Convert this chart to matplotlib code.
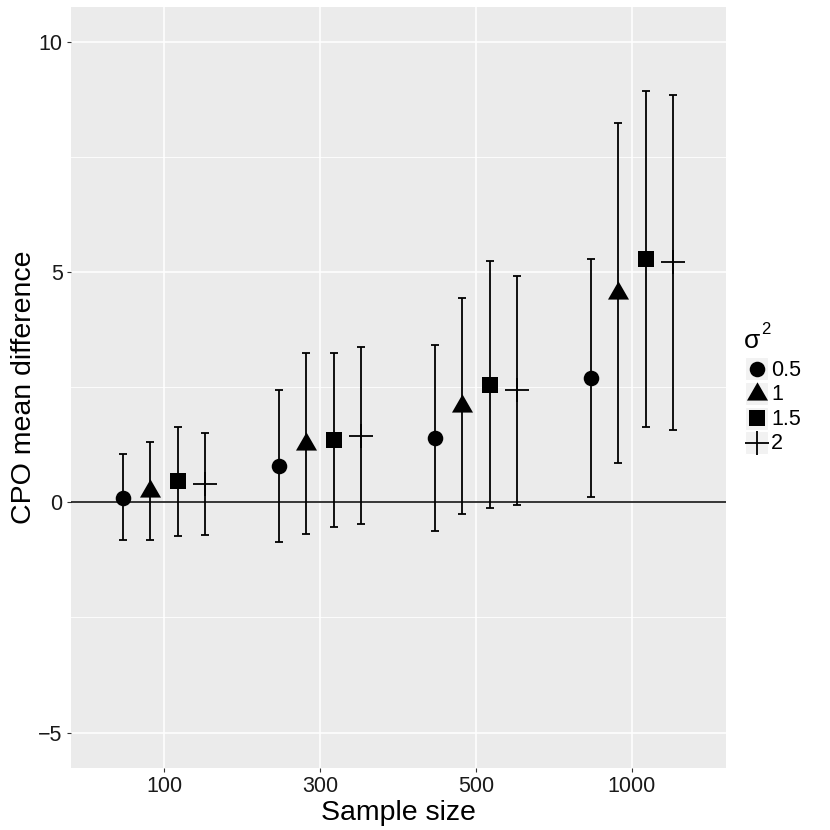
import matplotlib
matplotlib.use('Agg')
import matplotlib.pyplot as plt
import numpy as np
from matplotlib.path import Path
from matplotlib.patches import Rectangle

plt.rcParams['font.family'] = ['Liberation Sans', 'DejaVu Sans']

# ---------------- data ----------------
sample_sizes = ['100', '300', '500', '1000']
sigma2_levels = ['0.5', '1', '1.5', '2']

mean_05 = [0.10, 0.78, 1.39, 2.70]
lo_05 = [-0.82, -0.86, -0.63, 0.11]
hi_05 = [1.04, 2.43, 3.41, 5.29]

mean_1 = [0.24, 1.26, 2.08, 4.54]
lo_1 = [-0.81, -0.68, -0.25, 0.85]
hi_1 = [1.30, 3.24, 4.43, 8.24]

mean_15 = [0.45, 1.35, 2.55, 5.29]
lo_15 = [-0.74, -0.54, -0.13, 1.63]
hi_15 = [1.64, 3.24, 5.24, 8.92]

mean_2 = [0.40, 1.44, 2.44, 5.21]
lo_2 = [-0.72, -0.48, -0.06, 1.57]
hi_2 = [1.51, 3.36, 4.92, 8.84]

y_ticks = [-5, 0, 5, 10]

series = [
    (mean_05, lo_05, hi_05),
    (mean_1, lo_1, hi_1),
    (mean_15, lo_15, hi_15),
    (mean_2, lo_2, hi_2),
]

# ---------------- styles ----------------
tri = Path([(0, 1.1547), (1, -0.57735), (-1, -0.57735), (0, 1.1547)],
           [Path.MOVETO, Path.LINETO, Path.LINETO, Path.CLOSEPOLY])
marker_styles = [
    dict(marker='o', ms=11.2, mfc='black', mec='black', mew=0),
    dict(marker=tri, ms=17.5, mfc='black', mec='black', mew=0),
    dict(marker='s', ms=11.5, mfc='black', mec='black', mew=0),
    dict(marker='+', ms=17.5, mfc='black', mec='black', mew=1.3),
]

W = H = 830
fig = plt.figure(figsize=(8.3, 8.3), dpi=100)
ax = fig.add_axes([71 / W, (H - 768) / H, (726 - 71) / W, (768 - 7.5) / H])
ax.set_facecolor('#EBEBEB')
for s in ax.spines.values():
    s.set_visible(False)

x = np.arange(len(sample_sizes))
dodge = 0.7
n = len(series)
ax.axhline(0, color='black', lw=1.1, zorder=2)
for j, (m, lo, hi) in enumerate(series):
    xs = x + (j - (n - 1) / 2) * dodge / n
    m = np.array(m); lo = np.array(lo); hi = np.array(hi)
    ax.errorbar(xs, m, yerr=[m - lo, hi - m], fmt='none', ecolor='black',
                elinewidth=1.3, capsize=2.9, capthick=1.3, zorder=3)
    ax.plot(xs, m, ls='none', zorder=4, **marker_styles[j])

ax.set_xlim(-0.596, 3.603)
ax.set_ylim(-5.77, 10.74)
ax.set_xticks(x)
ax.set_xticklabels(sample_sizes)
ax.set_yticks(y_ticks)
ax.set_yticklabels(['\u22125', '0', '5', '10'])
ax.set_yticks([-2.5, 2.5, 7.5], minor=True)
ax.grid(which='major', color='white', lw=1.1)
ax.grid(which='minor', axis='y', color='white', lw=0.6)
ax.set_axisbelow(True)
ax.tick_params(axis='both', which='major', length=3, width=0.8, color='#333333',
               labelsize=15.5, labelcolor='#1A1A1A', pad=3)
ax.tick_params(axis='both', which='minor', length=0)
ax.set_xlabel('Sample size', fontsize=20.5, labelpad=2)
ax.set_ylabel('CPO mean difference', fontsize=20.5, labelpad=1)

# ---------------- legend (manual, pixel coordinates) ----------------
lax = fig.add_axes([0, 0, 1, 1])
lax.set_xlim(0, W)
lax.set_ylim(H, 0)
lax.axis('off')
lax.patch.set_alpha(0)
lax.text(744, 347.5, '\u03c3', fontsize=19, va='baseline', ha='left')
lax.text(761.5, 333.5, '2', fontsize=12, va='baseline', ha='left')
row_y = [369, 393.5, 418, 442.5]
for j, lab in enumerate(sigma2_levels):
    cy = row_y[j]
    lax.add_patch(Rectangle((745, cy - 11.5), 23, 23, facecolor='#F2F2F2',
                            edgecolor='white', lw=0.8))
    lax.plot([756.5], [cy], ls='none', **marker_styles[j])
    lax.text(771, cy + 1, lab, fontsize=15.5, va='center', ha='left')

fig.savefig('out.png', dpi=100, facecolor='white')
